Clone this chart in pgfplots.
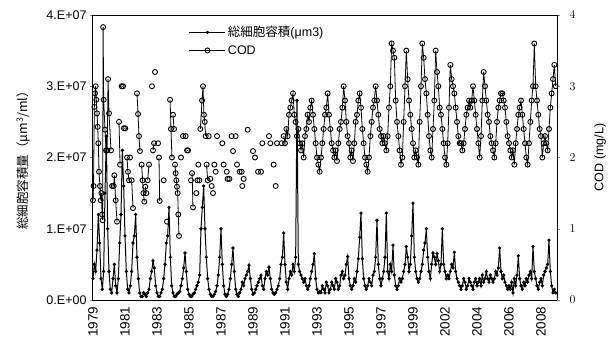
\documentclass[border=0pt]{standalone}
\usepackage{pgfplots}
\pgfplotsset{compat=1.18}
\usepackage{pgfplotstable}
\usepackage{fontspec}
\setmainfont{Liberation Sans}
\newfontfamily\jp{Noto Sans CJK JP}

% total cell volume, monthly from Jan 1979, in units of 1E7 um3/ml
\pgfplotstableread[row sep=\\]{cv\\
0.3\\0.5\\0.4\\0.7\\1.2\\0.8\\0.3\\0.15\\0.4\\1.5\\2.3\\1.0\\
0.4\\0.15\\0.1\\0.3\\0.5\\0.2\\0.1\\0.3\\0.8\\1.2\\2.1\\1.6\\
0.9\\0.4\\0.15\\0.1\\0.2\\0.4\\0.8\\0.9\\1.2\\0.6\\0.3\\0.1\\
0.05\\0.05\\0.1\\0.08\\0.05\\0.1\\0.15\\0.3\\0.4\\0.55\\0.45\\0.2\\
0.1\\0.05\\0.05\\0.1\\0.15\\0.3\\0.5\\0.8\\0.9\\1.3\\0.6\\0.2\\
0.1\\0.05\\0.05\\0.08\\0.1\\0.12\\0.2\\0.3\\0.45\\0.66\\0.4\\0.15\\
0.08\\0.05\\0.05\\0.08\\0.1\\0.15\\0.2\\0.25\\0.35\\1.0\\1.3\\1.6\\
1.0\\0.6\\0.3\\0.15\\0.08\\0.05\\0.05\\0.08\\0.12\\0.2\\0.35\\0.6\\
1.0\\0.5\\0.2\\0.08\\0.05\\0.08\\0.15\\0.3\\0.5\\0.73\\0.4\\0.15\\
0.08\\0.05\\0.1\\0.15\\0.25\\0.2\\0.3\\0.35\\0.4\\0.49\\0.3\\0.15\\
0.08\\0.1\\0.15\\0.2\\0.25\\0.3\\0.35\\0.2\\0.15\\0.3\\0.4\\0.35\\
0.46\\0.3\\0.15\\0.1\\0.08\\0.1\\0.15\\0.2\\0.3\\0.5\\0.6\\0.94\\
0.5\\0.25\\0.15\\0.3\\0.4\\0.35\\0.5\\0.4\\0.6\\2.8\\0.5\\0.4\\
0.35\\0.3\\0.25\\0.3\\0.2\\0.15\\0.2\\0.3\\0.4\\0.5\\0.65\\0.3\\
0.15\\0.1\\0.12\\0.1\\0.2\\0.15\\0.1\\0.25\\0.2\\0.1\\0.15\\0.25\\
0.2\\0.15\\0.3\\0.25\\0.15\\0.2\\0.35\\0.4\\0.3\\0.35\\0.5\\0.61\\
0.3\\0.2\\0.15\\0.2\\0.3\\0.25\\0.4\\0.58\\0.88\\1.22\\0.58\\0.3\\
0.2\\0.15\\0.2\\0.3\\0.25\\0.2\\0.35\\0.4\\0.6\\1.12\\0.5\\0.3\\
0.2\\0.3\\0.4\\0.6\\1.22\\0.4\\0.3\\0.5\\0.4\\0.77\\0.35\\0.2\\
0.15\\0.2\\0.3\\0.25\\0.3\\0.4\\0.5\\0.75\\0.6\\0.4\\0.5\\0.9\\
1.36\\0.6\\0.4\\0.3\\0.25\\0.3\\0.4\\0.5\\0.7\\0.8\\1.0\\0.6\\
0.4\\0.3\\0.5\\0.66\\0.6\\0.5\\0.65\\0.55\\0.4\\0.5\\1.0\\0.5\\
0.4\\0.3\\0.35\\0.3\\0.4\\0.5\\0.45\\0.67\\0.4\\0.3\\0.25\\0.2\\
0.15\\0.2\\0.3\\0.25\\0.15\\0.2\\0.3\\0.25\\0.2\\0.15\\0.25\\0.3\\
0.2\\0.25\\0.3\\0.2\\0.35\\0.25\\0.3\\0.4\\0.3\\0.25\\0.35\\0.3\\
0.25\\0.3\\0.4\\0.35\\0.45\\0.73\\0.4\\0.3\\0.35\\0.25\\0.2\\0.15\\
0.2\\0.15\\0.25\\0.1\\0.3\\0.2\\0.35\\0.62\\0.3\\0.2\\0.15\\0.25\\
0.2\\0.3\\0.25\\0.35\\0.4\\0.3\\0.75\\0.4\\0.3\\0.2\\0.15\\0.25\\
0.3\\0.2\\0.35\\0.4\\0.45\\0.5\\0.84\\0.4\\0.2\\0.1\\0.15\\0.1\\
}\cvdata

% COD (mg/L); x = months since Jan 1979; nan = gap in record
\pgfplotstableread[row sep=\\]{x y\\
0 1.4\\0.4 1.6\\1.0 2.71\\1.5 2.9\\2.0 3.0\\2.5 2.81\\3.0 2.62\\3.5 2.43\\4.0 2.2\\4.5 1.8\\5.2 1.6\\5.8 1.4\\6.3 1.5\\6.8 1.2\\7.2 1.12\\7.6 3.83\\8.0 2.81\\9.0 2.39\\9.8 2.1\\nan nan\\
10.6 2.1\\11.3 3.1\\12.0 2.62\\13.5 2.1\\nan nan\\
14.3 1.6\\15.5 1.6\\16.0 1.75\\17.0 1.4\\18.0 1.1\\nan nan\\
19.5 2.5\\20.3 1.9\\nan nan\\21.5 3.0\\22.5 3.0\\nan nan\\23.2 2.41\\24.2 2.41\\nan nan\\
25.5 2.0\\26.2 1.8\\27.0 1.68\\nan nan\\27.8 2.0\\nan nan\\29.0 1.68\\30.0 1.29\\nan nan\\
33.0 2.9\\33.8 2.61\\34.5 2.3\\35.2 2.09\\nan nan\\36.5 1.9\\37.2 1.68\\37.8 1.5\\38.5 1.38\\nan nan\\
39.2 1.59\\40.0 1.5\\nan nan\\41.0 1.68\\42.0 1.9\\nan nan\\
44.2 3.0\\nan nan\\45.0 2.1\\45.8 2.2\\nan nan\\46.5 3.2\\nan nan\\48.8 2.2\\nan nan\\49.5 2.0\\50.0 1.39\\nan nan\\
53.0 1.68\\nan nan\\55.5 1.1\\nan nan\\57.8 2.81\\58.5 2.4\\59.2 2.0\\nan nan\\60.0 2.6\\60.8 2.4\\nan nan\\
61.5 1.9\\62.0 1.78\\62.5 1.68\\63.0 1.59\\63.5 1.5\\64.0 1.2\\64.5 0.9\\nan nan\\
66.0 2.0\\nan nan\\67.5 2.3\\nan nan\\69.5 2.3\\nan nan\\70.5 2.1\\71.3 2.1\\nan nan\\73.5 1.68\\nan nan\\74.3 1.78\\75.0 1.3\\nan nan\\
77.5 1.5\\nan nan\\78.3 1.68\\nan nan\\79.0 1.9\\nan nan\\79.8 1.68\\nan nan\\
80.5 2.4\\81.8 2.8\\82.5 3.0\\83.2 2.6\\83.8 2.5\\84.5 2.3\\nan nan\\85.2 1.9\\86.0 1.68\\nan nan\\
86.8 2.3\\nan nan\\88 1.7\\nan nan\\89 1.6\\nan nan\\90 1.5\\nan nan\\91 1.9\\nan nan\\92 1.8\\nan nan\\93 2.3\\nan nan\\
97 2.2\\nan nan\\98 1.9\\nan nan\\100.3 1.8\\nan nan\\101 1.7\\nan nan\\102.3 1.7\\nan nan\\104 2.3\\nan nan\\105 2.09\\nan nan\\
107 2.3\\nan nan\\108 1.9\\nan nan\\110 1.8\\nan nan\\111.5 1.8\\nan nan\\112 1.6\\nan nan\\113 1.7\\nan nan\\116 2.39\\nan nan\\
120 2.09\\nan nan\\121.5 2.0\\nan nan\\123.8 1.8\\nan nan\\126 1.8\\nan nan\\127 2.2\\nan nan\\132 2.3\\nan nan\\133 2.2\\nan nan\\
135.5 1.9\\nan nan\\137 1.6\\nan nan\\138 2.2\\nan nan\\141.5 2.2\\nan nan\\
143 2.3\\144 2.2\\145 2.4\\146 2.3\\147 2.6\\148 2.7\\149 2.8\\150 2.9\\151 2.6\\152 2.5\\153 2.3\\154 2.4\\155 2.2\\
156 2.1\\157 2.2\\158 2.0\\159 2.3\\160 2.4\\161 2.6\\162 2.5\\163 2.7\\164 2.8\\165 2.6\\166 2.4\\167 2.2\\
168 2.0\\169 1.9\\170 1.8\\171 2.0\\172 2.2\\173 2.4\\174 2.6\\175 2.7\\176 2.9\\177 2.6\\178 2.4\\179 2.2\\
180 2.1\\181 2.0\\182 2.1\\183 1.95\\184 2.2\\185 2.4\\186 2.5\\187 2.7\\188 3.0\\189 2.8\\190 2.5\\191 2.3\\
192 2.2\\193 2.0\\194 2.1\\195 1.95\\196 2.2\\197 2.5\\198 2.6\\199 2.8\\200 2.9\\201 2.7\\202 2.4\\203 2.2\\
204 2.0\\205 1.9\\206 1.8\\207 2.0\\208 2.3\\209 2.5\\210 2.7\\211 2.8\\212 3.0\\213 2.8\\214 2.6\\215 2.4\\
216 2.3\\217 2.2\\218 2.3\\219 2.2\\220 2.1\\221 2.3\\222 2.7\\223 3.0\\224 3.6\\225 3.5\\226 3.4\\227 2.8\\
228 2.5\\229 2.3\\230 2.1\\231 1.9\\232 2.0\\233 2.5\\234 3.0\\235 3.5\\236 3.1\\237 2.8\\238 2.6\\239 2.4\\
240 2.2\\241 2.0\\242 2.1\\243 2.0\\244 1.9\\245 2.5\\246 3.0\\247 3.6\\248 3.4\\249 3.1\\250 2.9\\251 2.6\\
252 2.3\\253 2.1\\254 2.0\\255 2.4\\256 2.8\\257 3.5\\258 3.2\\259 3.0\\260 2.7\\261 2.6\\262 2.4\\263 2.2\\
264 2.0\\265 1.9\\266 2.2\\267 2.7\\268 3.3\\269 3.1\\270 3.0\\271 2.9\\272 2.7\\273 2.5\\274 2.3\\275 2.2\\
276 2.2\\277 2.1\\278 2.2\\279 2.4\\280 2.6\\281 2.7\\282 2.8\\283 2.7\\284 2.8\\285 3.0\\286 2.8\\287 2.6\\
288 2.4\\289 2.2\\290 2.0\\291 2.3\\292 2.8\\293 3.2\\294 3.0\\295 2.8\\296 2.6\\297 2.5\\298 2.3\\299 2.2\\
300 2.1\\301 2.0\\302 2.2\\303 2.5\\304 2.7\\305 2.8\\306 2.9\\307 2.9\\308 2.8\\309 2.7\\310 2.5\\311 2.3\\
312 2.2\\313 2.1\\314 2.0\\315 2.1\\316 1.9\\317 2.2\\318 2.4\\319 2.6\\320 2.7\\321 2.8\\322 2.6\\323 2.4\\
324 2.2\\325 2.0\\326 1.9\\327 2.2\\328 2.5\\329 2.8\\330 3.0\\331 3.6\\332 3.0\\333 2.8\\334 2.6\\335 2.4\\
336 2.3\\337 2.0\\338 2.2\\339 2.3\\340 2.2\\341 2.1\\342 2.4\\343 2.7\\344 2.9\\345 3.1\\346 3.3\\347 3.0\\
}\coddata

\pgfplotsset{
  every tick label/.append style={font=\fontsize{12.5}{13}\selectfont},
  every axis label/.append style={font=\fontsize{12.5}{14}\selectfont},
}

\begin{document}
\begin{tikzpicture}
\begin{axis}[
  scale only axis, width=464pt, height=285pt,
  xmin=0, xmax=348, ymin=0, ymax=4,
  axis line style={line width=1pt},
  xtick={0,24,...,336},
  xticklabels={1979,1981,1983,1985,1987,1989,1991,1993,1995,1997,1999,2002,2004,2006,2008},
  xticklabel style={rotate=90, anchor=east, font=\fontsize{13.5}{14}\selectfont},
  major x tick style={draw=none},
  ytick={0,1,2,3,4},
  yticklabels={0.E+00,1.E+07,2.E+07,3.E+07,4.E+07},
  ytick pos=left, tick align=outside, major tick length=3pt,
  ylabel={{\jp 総細胞容積量}（μm\textsuperscript{3}/ml）},
  ylabel style={font=\jp\fontsize{12.5}{14}\selectfont},
  ylabel shift=10pt,
  unbounded coords=jump,
  legend cell align=left,
  legend style={at={(0.2,0.975)}, anchor=north west, draw=none, fill=none,
    font=\fontsize{12.5}{15}\selectfont, row sep=3pt},
  legend image code/.code={\draw[mark repeat=2,mark phase=2] plot coordinates {(0pt,0pt) (18pt,0pt) (36pt,0pt)};},
]
\addplot[black, line width=1pt, mark=*, mark size=1.1pt] table[x expr=\coordindex, y=cv] {\cvdata};
\addlegendentry{{\jp 総細胞容積}(μm3)}
\addplot[black, line width=0.8pt, mark=o, mark size=2.5pt, mark options={fill=white, line width=0.9pt}] table[x=x, y=y] {\coddata};
\addlegendentry{COD}
\end{axis}
\begin{axis}[
  scale only axis, width=464pt, height=285pt,
  xmin=0, xmax=348, ymin=0, ymax=4,
  axis x line=none, axis y line*=right,
  axis line style={line width=1pt},
  ytick={0,1,2,3,4}, tick align=outside, major tick length=3pt,
  yticklabel style={xshift=6pt},
  ylabel={COD (mg/L)},
  ylabel shift=12pt,
]
\addplot[draw=none] coordinates {(0,0)};
\end{axis}
\pgfresetboundingbox
\path (-93pt,-38pt) rectangle (521pt,300pt);
\end{tikzpicture}
\end{document}
